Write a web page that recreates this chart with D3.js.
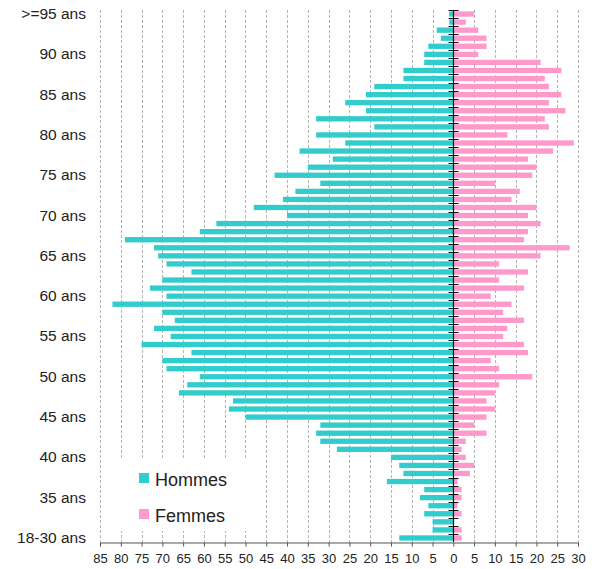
<!DOCTYPE html>
<html>
<head>
<meta charset="utf-8">
<script src="https://cdn.jsdelivr.net/npm/d3@7"></script>
<style>
  html, body { margin: 0; padding: 0; background: #fff; }
  svg { display: block; }
  text { font-family: "Liberation Sans", Arial, sans-serif; fill: #222; }
</style>
</head>
<body>
<svg id="chart" width="601" height="569"></svg>
<script>
// Age categories, top to bottom
const categories = [
  ">=95 ans","94 ans","93 ans","92 ans","91 ans","90 ans","89 ans","88 ans","87 ans","86 ans",
  "85 ans","84 ans","83 ans","82 ans","81 ans","80 ans","79 ans","78 ans","77 ans","76 ans",
  "75 ans","74 ans","73 ans","72 ans","71 ans","70 ans","69 ans","68 ans","67 ans","66 ans",
  "65 ans","64 ans","63 ans","62 ans","61 ans","60 ans","59 ans","58 ans","57 ans","56 ans",
  "55 ans","54 ans","53 ans","52 ans","51 ans","50 ans","49 ans","48 ans","47 ans","46 ans",
  "45 ans","44 ans","43 ans","42 ans","41 ans","40 ans","39 ans","38 ans","37 ans","36 ans",
  "35 ans","34 ans","33 ans","32 ans","31 ans","18-30 ans"
];
// Hommes (men), same order
const hommes = [
  1, 1, 4, 3, 6, 7, 7, 12, 12, 19,
  21, 26, 21, 33, 19, 33, 26, 37, 29, 35,
  43, 32, 38, 41, 48, 40, 57, 61, 79, 72,
  71, 69, 63, 70, 73, 69, 82, 70, 67, 72,
  68, 75, 63, 70, 69, 61, 64, 66, 53, 54,
  50, 32, 33, 32, 28, 15, 13, 12, 16, 7,
  8, 6, 7, 5, 5, 13
];
// Femmes (women), same order
const femmes = [
  5, 3, 6, 8, 8, 6, 21, 26, 22, 23,
  26, 23, 27, 22, 23, 13, 29, 24, 18, 20,
  19, 10, 16, 14, 20, 18, 21, 18, 17, 28,
  21, 11, 18, 11, 17, 9, 14, 12, 17, 13,
  12, 17, 18, 9, 11, 19, 11, 10, 8, 10,
  8, 5, 8, 3, 2, 3, 5, 4, 1, 2,
  2, 1, 2, 0, 2, 2
];
const labelledCategories = [">=95 ans","90 ans","85 ans","80 ans","75 ans","70 ans","65 ans",
  "60 ans","55 ans","50 ans","45 ans","40 ans","35 ans","18-30 ans"];
const xTicks = [-85,-80,-75,-70,-65,-60,-55,-50,-45,-40,-35,-30,-25,-20,-15,-10,-5,0,5,10,15,20,25,30];
const seriesNames = ["Hommes", "Femmes"];
const seriesColors = ["#33CCCC", "#FF99CC"];

const svg = d3.select("#chart");
const plotTop = 10, plotBottom = 542, plotLeft = 100, plotRight = 578;

const x = d3.scaleLinear().domain([-85, 30]).range([plotLeft, plotRight]);
const y = d3.scaleBand().domain(categories).range([plotTop, plotBottom]).paddingInner(0.34).paddingOuter(0.17);

// gridlines
svg.append("g").selectAll("line")
  .data(xTicks.filter(d => d !== 0))
  .join("line")
  .attr("x1", d => Math.round(x(d)) + 0.5).attr("x2", d => Math.round(x(d)) + 0.5)
  .attr("y1", plotTop).attr("y2", plotBottom)
  .attr("stroke", "#b3b3b3").attr("stroke-width", 1)
  .attr("stroke-dasharray", "3,2");

const x0 = Math.round(x(0)) + 0.5;

// bars
const rows = categories.map((c, i) => ({c, h: hommes[i], f: femmes[i]}));
svg.append("g").selectAll("rect")
  .data(rows).join("rect")
  .attr("x", d => x(-d.h)).attr("width", d => x(0) - x(-d.h))
  .attr("y", d => y(d.c)).attr("height", y.bandwidth())
  .attr("fill", seriesColors[0]);
svg.append("g").selectAll("rect")
  .data(rows).join("rect")
  .attr("x", x(0)).attr("width", d => x(d.f) - x(0))
  .attr("y", d => y(d.c)).attr("height", y.bandwidth())
  .attr("fill", seriesColors[1]);

// central axis line and ticks at row boundaries
const step = y.step();
const boundaries = categories.map(c => y(c) - (step - y.bandwidth()) / 2);
svg.append("g").selectAll("line")
  .data(boundaries).join("line")
  .attr("x1", x0 - 5).attr("x2", x0 + 5)
  .attr("y1", d => Math.round(d) + 0.5).attr("y2", d => Math.round(d) + 0.5)
  .attr("stroke", "#111").attr("stroke-width", 1);
svg.append("line")
  .attr("x1", x0).attr("x2", x0).attr("y1", plotTop).attr("y2", plotBottom)
  .attr("stroke", "#111").attr("stroke-width", 1.2);

// x axis
const xAxis = d3.axisBottom(x).tickValues(xTicks).tickSize(4).tickPadding(7)
  .tickFormat(d => Math.abs(d));
const gx = svg.append("g").attr("transform", `translate(0,${plotBottom + 0.5})`).call(xAxis);
gx.select(".domain").attr("stroke", "#555");
gx.selectAll(".tick line").attr("stroke", "#555");
gx.selectAll(".tick text").attr("font-size", "13px")
  .style("font-family", '"Liberation Sans", Arial, sans-serif').attr("fill", "#222");

// y labels
const yAxis = d3.axisLeft(y).tickValues(labelledCategories).tickSize(0).tickPadding(4);
const gy = svg.append("g").attr("transform", "translate(90,0)").call(yAxis);
gy.select(".domain").remove();
gy.selectAll(".tick text").attr("font-size", "15.5px")
  .style("font-family", '"Liberation Sans", Arial, sans-serif').attr("fill", "#222");

// legend
const lg = svg.append("g");
lg.append("rect").attr("x", 103).attr("y", 459).attr("width", 160).attr("height", 72).attr("fill", "#fff");
const items = lg.selectAll("g.item").data(seriesNames).join("g")
  .attr("transform", (d, i) => `translate(139,${473 + i * 36})`);
items.append("rect").attr("width", 10).attr("height", 10).attr("fill", (d, i) => seriesColors[i]);
items.append("text").attr("x", 16).attr("y", 12.5).attr("font-size", "18px").text(d => d);
</script>
</body>
</html>
